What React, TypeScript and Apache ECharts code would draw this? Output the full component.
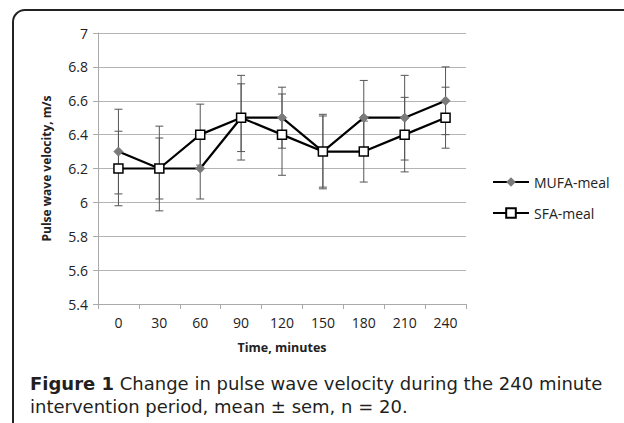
import React, { useEffect, useRef } from "react";
import * as echarts from "echarts";

const categories = ["0", "30", "60", "90", "120", "150", "180", "210", "240"];
const mufaMean = [6.3, 6.2, 6.2, 6.5, 6.5, 6.3, 6.5, 6.5, 6.6];
const mufaSem = [0.25, 0.25, 0.18, 0.2, 0.18, 0.22, 0.22, 0.25, 0.2];
const sfaMean = [6.2, 6.2, 6.4, 6.5, 6.4, 6.3, 6.3, 6.4, 6.5];
const sfaSem = [0.22, 0.18, 0.18, 0.25, 0.24, 0.21, 0.18, 0.22, 0.18];

const FONT = "'Open Sans', sans-serif";
const CAPTION_FONT = "'DejaVu Sans', sans-serif";

function errData(mean: number[], sem: number[]) {
  return mean.map((m, i) => [i, +(m - sem[i]).toFixed(3), +(m + sem[i]).toFixed(3)]);
}

function renderErr(params: any, api: any) {
  const x = api.value(0);
  const lo = api.value(1);
  const hi = api.value(2);
  const top = api.coord([x, hi]);
  const bot = api.coord([x, lo]);
  const hw = 4;
  const st = { stroke: "#555", lineWidth: 1 };
  return {
    type: "group",
    children: [
      { type: "line", shape: { x1: top[0], y1: top[1], x2: bot[0], y2: bot[1] }, style: st },
      { type: "line", shape: { x1: top[0] - hw, y1: top[1], x2: top[0] + hw, y2: top[1] }, style: st },
      { type: "line", shape: { x1: bot[0] - hw, y1: bot[1], x2: bot[0] + hw, y2: bot[1] }, style: st },
    ],
  };
}

export default function App() {
  const ref = useRef<HTMLDivElement>(null);
  useEffect(() => {
    if (!ref.current) return;
    const chart = echarts.init(ref.current, null, { renderer: "svg" });
    chart.setOption({
      animation: false,
      backgroundColor: "#fff",
      textStyle: { fontFamily: FONT },
      grid: { left: 98, right: 158, top: 33, bottom: 119 },
      legend: {
        orient: "vertical",
        left: 487,
        top: 170,
        itemWidth: 36,
        itemHeight: 12,
        itemGap: 17,
        textStyle: { fontFamily: FONT, fontSize: 14, color: "#222" },
        data: ["MUFA-meal", "SFA-meal"],
      },
      xAxis: {
        type: "category",
        data: categories,
        boundaryGap: true,
        axisLine: { lineStyle: { color: "#aaa", width: 1 } },
        axisTick: { show: true, length: 5, lineStyle: { color: "#aaa" } },
        axisLabel: { fontFamily: FONT, fontSize: 14, color: "#222", margin: 11 },
        name: "Time, minutes",
        nameLocation: "middle",
        nameGap: 37,
        nameTextStyle: { fontFamily: FONT, fontSize: 12.5, fontWeight: "bold", color: "#222" },
      },
      yAxis: {
        type: "value",
        min: 5.4,
        max: 7,
        interval: 0.2,
        axisLine: { show: true, lineStyle: { color: "#aaa", width: 1 } },
        axisTick: { show: true, length: 5, lineStyle: { color: "#aaa" } },
        splitLine: { lineStyle: { color: "#b4b4b4", width: 1 } },
        axisLabel: {
          fontFamily: FONT,
          fontSize: 14,
          color: "#222",
          margin: 10,
          formatter: (v: number) => String(+v.toFixed(1)),
        },
        name: "Pulse wave velocity, m/s",
        nameLocation: "middle",
        nameGap: 46,
        nameTextStyle: { fontFamily: FONT, fontSize: 12, fontWeight: "bold", color: "#222" },
      },
      series: [
        {
          name: "MUFA-err",
          type: "custom",
          renderItem: renderErr,
          data: errData(mufaMean, mufaSem),
          encode: { x: 0, y: [1, 2] },
          z: 1,
          silent: true,
        },
        {
          name: "SFA-err",
          type: "custom",
          renderItem: renderErr,
          data: errData(sfaMean, sfaSem),
          encode: { x: 0, y: [1, 2] },
          z: 1,
          silent: true,
        },
        {
          name: "MUFA-meal",
          type: "line",
          data: mufaMean,
          symbol: "diamond",
          symbolSize: 9,
          lineStyle: { color: "#000", width: 2.2 },
          itemStyle: { color: "#7a7a7a", borderColor: "#7a7a7a" },
          z: 3,
        },
        {
          name: "SFA-meal",
          type: "line",
          data: sfaMean,
          symbol: "rect",
          symbolSize: 9,
          lineStyle: { color: "#000", width: 2.2 },
          itemStyle: { color: "#fff", borderColor: "#000", borderWidth: 1.5 },
          z: 4,
        },
      ],
      graphic: [
        {
          type: "rect",
          shape: { x: 13, y: 10, width: 720, height: 520, r: 12 },
          style: { fill: "none", stroke: "#222", lineWidth: 2 },
          silent: true,
        },
        {
          type: "text",
          left: 30,
          top: 372,
          style: {
            text: "{b|Figure 1} Change in pulse wave velocity during the 240 minute",
            fontFamily: CAPTION_FONT,
            fontSize: 18,
            lineHeight: 22,
            fill: "#231f20",
            rich: {
              b: { fontFamily: CAPTION_FONT, fontSize: 18, lineHeight: 22, fontWeight: "bold", fill: "#231f20" },
            },
          },
        },
        {
          type: "text",
          left: 30,
          top: 395,
          style: {
            text: "intervention period, mean ± sem, n = 20.",
            fontFamily: CAPTION_FONT,
            fontSize: 18,
            lineHeight: 22,
            fill: "#231f20",
          },
        },
      ],
    });
    return () => chart.dispose();
  }, []);
  return (
    <div
      ref={ref}
      style={{ position: "fixed", left: 0, top: 0, width: 624, height: 423 }}
    />
  );
}
